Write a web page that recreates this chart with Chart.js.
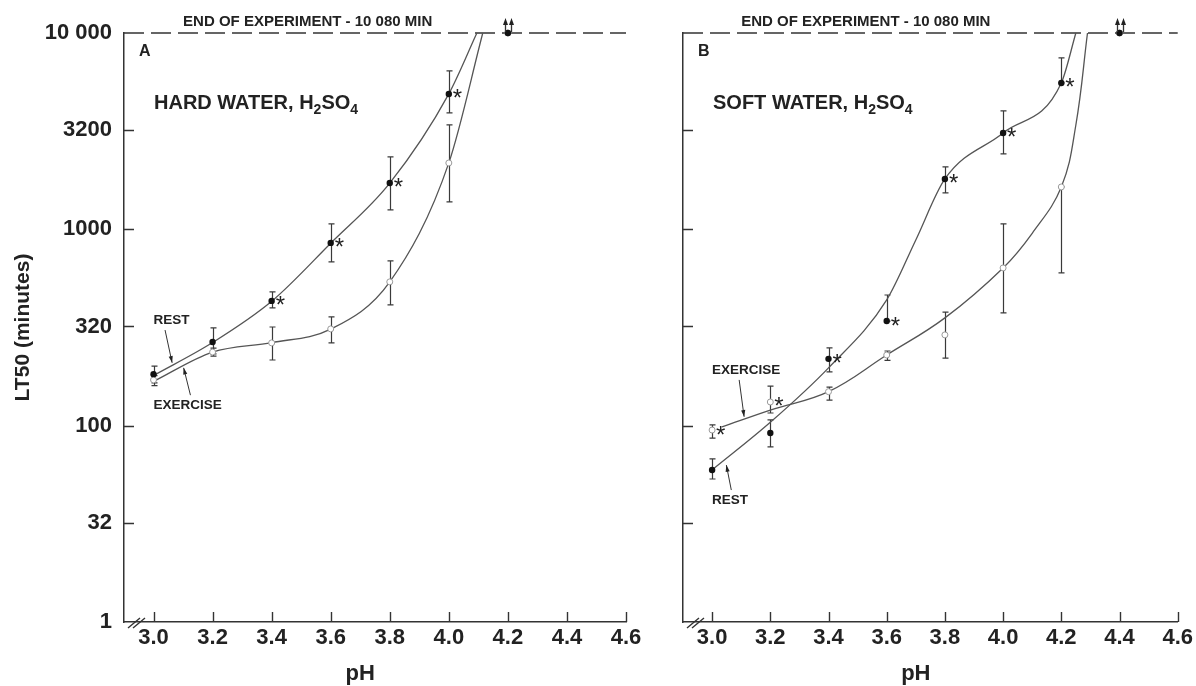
<!DOCTYPE html>
<html>
<head>
<meta charset="utf-8">
<title>LT50 vs pH</title>
<script src="https://cdn.jsdelivr.net/npm/chart.js@4.4.0/dist/chart.umd.min.js"></script>
<style>
    html, body { margin: 0; padding: 0; background: #fff; }
    #wrap { position: relative; width: 1196px; height: 686px; overflow: hidden; }
    #wrap canvas { position: absolute; top: 0; }
    #panelA { left: 0; }
    #panelB { left: 648px; }
</style>
</head>
<body>
<div id="wrap">
    <canvas id="panelA" width="648" height="686"></canvas>
    <canvas id="panelB" width="548" height="686"></canvas>
</div>
<script>
/**
 * pH levels tested
 */
const phLevels = [3.0, 3.2, 3.4, 3.6, 3.8, 4.0, 4.2, 4.4];
const phTicks = [3.0, 3.2, 3.4, 3.6, 3.8, 4.0, 4.2, 4.4, 4.6];
const phMin = 2.9;
const phMax = 4.6;

/**
 * LT50 axis (lowest tick sits on the broken part of the axis)
 */
const lt50Ticks = [10, 32, 100, 320, 1000, 3200, 10000];
const lt50Labels = ['1', '32', '100', '320', '1000', '3200', '10 000'];
const endMinutes = 10000;

/**
 * Hard water - rest
 */
const hardRest = [183, 267, 432, 853, 1723, 4893, 10000];
const hardRestLow = [165, 232, 398, 682, 1256, 3917, null];
const hardRestHigh = [201, 315, 480, 1066, 2337, 6412, null];
const hardRestStar = [0, 0, 1, 1, 1, 1, 0];

/**
 * Hard water - exercise
 */
const hardExercise = [171, 237, 264, 311, 540, 2178, 10000];
const hardExerciseLow = [160, 226, 216, 264, 412, 1380, null];
const hardExerciseHigh = [180, 248, 318, 358, 690, 3404, null];
const hardExerciseStar = [0, 0, 0, 0, 0, 0, 0];

/**
 * Hard water - fitted curves
 */
const hardRestCurvePh = [3.0, 3.2, 3.4, 3.6, 3.8, 4.0, 4.095];
const hardRestCurve = [180, 265, 430, 850, 1720, 4900, 10000];
const hardExerciseCurvePh = [3.0, 3.2, 3.4, 3.6, 3.8, 4.0, 4.115];
const hardExerciseCurve = [168, 237, 265, 310, 540, 2180, 10000];

/**
 * Soft water - rest
 */
const softRest = [59.5, 91.8, 219, 341, 1806, 3097, 5567, 10000];
const softRestLow = [53.5, 77.9, 188, 341, 1532, 2421, 5567, null];
const softRestHigh = [67.7, 107, 249, 463, 2080, 4009, 7465, null];
const softRestStar = [0, 0, 1, 1, 1, 1, 1, 0];

/**
 * Soft water - exercise
 */
const softExercise = [95, 132, 149, 229, 290, 636, 1644, 10000];
const softExerciseLow = [86.5, 116, 135, 215, 221, 375, 600, null];
const softExerciseHigh = [101, 159, 157, 240, 379, 1066, 1644, null];
const softExerciseStar = [1, 1, 0, 0, 0, 0, 0, 0];

/**
 * Soft water - fitted curves
 */
const softRestCurvePh = [3.0, 3.2, 3.4, 3.6, 3.7, 3.8, 4.0, 4.2, 4.25];
const softRestCurve = [59.5, 104, 197, 437, 883, 1806, 3097, 5567, 10000];
const softExerciseCurvePh = [3.034, 3.2, 3.4, 3.6, 3.8, 4.0, 4.1, 4.2, 4.25, 4.29];
const softExerciseCurve = [98.5, 120, 149, 229, 354, 636, 955, 1644, 3400, 10000];

/**
 * Styles
 */
const FONT = "'Liberation Sans', Arial, Helvetica, sans-serif";
const TEXT = '#222';
const AXIS = '#333';
const CURVE = '#555';

function points(xs, ys) {
    return ys.map((y, i) => ({ x: xs[i], y: y }));
}

function pointer(ctx, x1, y1, x2, y2) {
    const a = Math.atan2(y2 - y1, x2 - x1);
    ctx.beginPath();
    ctx.moveTo(x1, y1);
    ctx.lineTo(x2, y2);
    ctx.stroke();
    ctx.beginPath();
    ctx.moveTo(x2, y2);
    ctx.lineTo(x2 - 7 * Math.cos(a - 0.3), y2 - 7 * Math.sin(a - 0.3));
    ctx.lineTo(x2 - 7 * Math.cos(a + 0.3), y2 - 7 * Math.sin(a + 0.3));
    ctx.closePath();
    ctx.fill();
}

/**
 * Error bars, inner ticks, stars, arrows and labels
 */
const marksPlugin = {
    id: 'marks',

    beforeDatasetsDraw(chart, args, opts) {
        const { ctx, chartArea: area, scales: { x, y } } = chart;
        ctx.save();
        ctx.strokeStyle = AXIS;
        ctx.lineWidth = 1.4;

        // ticks point into the plot
        ctx.beginPath();
        lt50Ticks.slice(1, -1).forEach(v => {
            const py = Math.round(y.getPixelForValue(v)) + 0.5;
            ctx.moveTo(area.left, py);
            ctx.lineTo(area.left + 10, py);
        });
        phTicks.forEach(v => {
            const px = Math.round(x.getPixelForValue(v)) + 0.5;
            ctx.moveTo(px, area.bottom);
            ctx.lineTo(px, area.bottom - 10);
        });
        ctx.stroke();

        // axis break
        ctx.beginPath();
        ctx.moveTo(area.left + 4, area.bottom + 6);
        ctx.lineTo(area.left + 16, area.bottom - 4);
        ctx.moveTo(area.left + 9, area.bottom + 6);
        ctx.lineTo(area.left + 21, area.bottom - 4);
        ctx.stroke();

        // error bars
        ctx.strokeStyle = '#3a3a3a';
        ctx.lineWidth = 1.2;
        opts.series.forEach(s => {
            s.values.forEach((v, i) => {
                if (s.low[i] == null) return;
                const px = Math.round(x.getPixelForValue(phLevels[i])) + 0.5;
                const lo = y.getPixelForValue(s.low[i]);
                const hi = y.getPixelForValue(s.high[i]);
                ctx.beginPath();
                ctx.moveTo(px, lo);
                ctx.lineTo(px, hi);
                ctx.moveTo(px - 3, lo);
                ctx.lineTo(px + 3, lo);
                ctx.moveTo(px - 3, hi);
                ctx.lineTo(px + 3, hi);
                ctx.stroke();
            });
        });
        ctx.restore();
    },

    afterDatasetsDraw(chart, args, opts) {
        const { ctx, chartArea: area, scales: { x, y } } = chart;
        ctx.save();
        ctx.fillStyle = TEXT;
        ctx.strokeStyle = AXIS;
        ctx.lineWidth = 1.3;

        // significance stars and "end of experiment" arrows
        opts.series.forEach(s => {
            s.values.forEach((v, i) => {
                const px = x.getPixelForValue(phLevels[i]);
                const py = y.getPixelForValue(v);
                if (s.star[i]) {
                    ctx.font = '24px ' + FONT;
                    ctx.textAlign = 'left';
                    ctx.textBaseline = 'alphabetic';
                    ctx.fillText('*', px + 4, py + 12.5);
                }
                if (v >= endMinutes) {
                    const ax = Math.round(px + s.arrowDx) + 0.5;
                    ctx.beginPath();
                    ctx.moveTo(ax, py - 1);
                    ctx.lineTo(ax, py - 9);
                    ctx.stroke();
                    ctx.beginPath();
                    ctx.moveTo(ax, py - 15);
                    ctx.lineTo(ax - 2.5, py - 8);
                    ctx.lineTo(ax + 2.5, py - 8);
                    ctx.closePath();
                    ctx.fill();
                }
            });
        });

        // end of experiment
        ctx.font = 'bold 15px ' + FONT;
        ctx.textAlign = 'left';
        ctx.textBaseline = 'alphabetic';
        ctx.fillText('END OF EXPERIMENT - 10 080 MIN', x.getPixelForValue(3.1), area.top - 7);

        // panel letter
        ctx.font = 'bold 16px ' + FONT;
        ctx.textBaseline = 'middle';
        ctx.fillText(opts.letter, area.left + 15, area.top + 19);

        // water type, H2SO4 with subscripts
        let tx = area.left + 30;
        const ty = area.top + 76;
        ctx.textBaseline = 'alphabetic';
        opts.heading.forEach((part, i) => {
            const sub = i % 2 === 1;
            ctx.font = 'bold ' + (sub ? 14 : 20) + 'px ' + FONT;
            ctx.fillText(part, tx, sub ? ty + 5 : ty);
            tx += ctx.measureText(part).width;
        });

        // rest / exercise labels
        ctx.font = 'bold 13.5px ' + FONT;
        ctx.textBaseline = 'middle';
        ctx.lineWidth = 1;
        opts.callouts.forEach(c => {
            ctx.fillText(c.text, x.getPixelForValue(c.at[0]), y.getPixelForValue(c.at[1]));
            pointer(ctx,
                x.getPixelForValue(c.from[0]), y.getPixelForValue(c.from[1]),
                x.getPixelForValue(c.to[0]), y.getPixelForValue(c.to[1]));
        });

        // x axis title
        ctx.font = 'bold 22px ' + FONT;
        ctx.textAlign = 'center';
        ctx.textBaseline = 'middle';
        ctx.fillText('pH', x.getPixelForValue(3.7), area.bottom + 52);
        ctx.restore();
    }
};

function buildPanel(canvasId, panel) {
    return new Chart(document.getElementById(canvasId), {
        type: 'scatter',
        data: {
            datasets: [
                /**
                 * Rest points
                 */
                {
                    data: points(phLevels, panel.rest),
                    showLine: false,
                    pointRadius: 3.2,
                    pointBackgroundColor: '#111',
                    pointBorderColor: '#111',
                    pointBorderWidth: 0,
                    clip: false
                },

                /**
                 * Exercise points
                 */
                {
                    data: points(phLevels, panel.exercise),
                    showLine: false,
                    pointRadius: 3,
                    pointBackgroundColor: '#fff',
                    pointBorderColor: '#999',
                    pointBorderWidth: 1,
                    clip: false
                },

                /**
                 * Rest curve
                 */
                {
                    data: points(panel.restCurvePh, panel.restCurve),
                    showLine: true,
                    pointRadius: 0,
                    borderColor: CURVE,
                    borderWidth: 1.3,
                    cubicInterpolationMode: 'monotone',
                    clip: false
                },

                /**
                 * Exercise curve
                 */
                {
                    data: points(panel.exerciseCurvePh, panel.exerciseCurve),
                    showLine: true,
                    pointRadius: 0,
                    borderColor: CURVE,
                    borderWidth: 1.3,
                    tension: panel.exerciseTension,
                    cubicInterpolationMode: panel.exerciseTension ? 'default' : 'monotone',
                    clip: false
                },

                /**
                 * End of experiment
                 */
                {
                    data: points([phMin, phMax], [endMinutes, endMinutes]),
                    showLine: true,
                    pointRadius: 0,
                    borderColor: AXIS,
                    borderWidth: 1.4,
                    borderDash: [20, 7],
                    clip: false
                }
            ]
        },
        plugins: [marksPlugin],
        options: {
            responsive: false,
            animation: false,
            events: [],
            layout: { padding: { top: 33, right: panel.padRight, left: 0, bottom: 0 } },
            plugins: {
                legend: { display: false },
                tooltip: { enabled: false },
                marks: {
                    letter: panel.letter,
                    heading: panel.heading,
                    callouts: panel.callouts,
                    series: [
                        { values: panel.exercise, low: panel.exerciseLow, high: panel.exerciseHigh, star: panel.exerciseStar, arrowDx: -3 },
                        { values: panel.rest, low: panel.restLow, high: panel.restHigh, star: panel.restStar, arrowDx: 3 }
                    ]
                }
            },
            scales: {
                x: {
                    type: 'linear',
                    min: phMin,
                    max: phMax,
                    afterBuildTicks: s => { s.ticks = phTicks.map(v => ({ value: v })); },
                    afterFit: s => { s.height = 64; },
                    grid: { drawOnChartArea: false, drawTicks: false },
                    border: { color: AXIS, width: 1.5 },
                    ticks: {
                        autoSkip: false,
                        maxRotation: 0,
                        padding: 3,
                        color: TEXT,
                        font: { family: FONT, size: 22, weight: 'bold' },
                        callback: v => Number(v).toFixed(1)
                    }
                },
                y: {
                    type: 'logarithmic',
                    min: 10,
                    max: 10000,
                    afterBuildTicks: s => { s.ticks = lt50Ticks.map(v => ({ value: v })); },
                    afterFit: s => { s.width = panel.axisWidth; },
                    grid: { drawOnChartArea: false, drawTicks: false },
                    border: { color: AXIS, width: 1.5 },
                    ticks: {
                        display: panel.showLabels,
                        padding: 12,
                        color: TEXT,
                        font: { family: FONT, size: 22, weight: 'bold' },
                        callback: (v, i) => lt50Labels[i]
                    },
                    title: {
                        display: panel.showLabels,
                        text: 'LT50 (minutes)',
                        color: TEXT,
                        font: { family: FONT, size: 21, weight: 'bold' },
                        padding: { top: 11, bottom: 0 }
                    }
                }
            }
        }
    });
}

/**
 * Panel A
 */
buildPanel('panelA', {
    letter: 'A',
    heading: ['HARD WATER, H', '2', 'SO', '4'],
    axisWidth: 124,
    padRight: 22,
    showLabels: true,
    exerciseTension: 0,
    rest: hardRest, restLow: hardRestLow, restHigh: hardRestHigh, restStar: hardRestStar,
    exercise: hardExercise, exerciseLow: hardExerciseLow, exerciseHigh: hardExerciseHigh, exerciseStar: hardExerciseStar,
    restCurvePh: hardRestCurvePh, restCurve: hardRestCurve,
    exerciseCurvePh: hardExerciseCurvePh, exerciseCurve: hardExerciseCurve,
    callouts: [
        { text: 'REST', at: [3.0, 345], from: [3.039, 307], to: [3.063, 209] },
        { text: 'EXERCISE', at: [3.0, 127], from: [3.125, 143], to: [3.102, 197] }
    ]
});

/**
 * Panel B
 */
buildPanel('panelB', {
    letter: 'B',
    heading: ['SOFT WATER, H', '2', 'SO', '4'],
    axisWidth: 35,
    padRight: 17,
    showLabels: false,
    exerciseTension: 0.4,
    rest: softRest, restLow: softRestLow, restHigh: softRestHigh, restStar: softRestStar,
    exercise: softExercise, exerciseLow: softExerciseLow, exerciseHigh: softExerciseHigh, exerciseStar: softExerciseStar,
    restCurvePh: softRestCurvePh, restCurve: softRestCurve,
    exerciseCurvePh: softExerciseCurvePh, exerciseCurve: softExerciseCurve,
    callouts: [
        { text: 'EXERCISE', at: [3.0, 192], from: [3.093, 171], to: [3.110, 111] },
        { text: 'REST', at: [3.0, 41.8], from: [3.066, 47], to: [3.049, 63] }
    ]
});
</script>
</body>
</html>
